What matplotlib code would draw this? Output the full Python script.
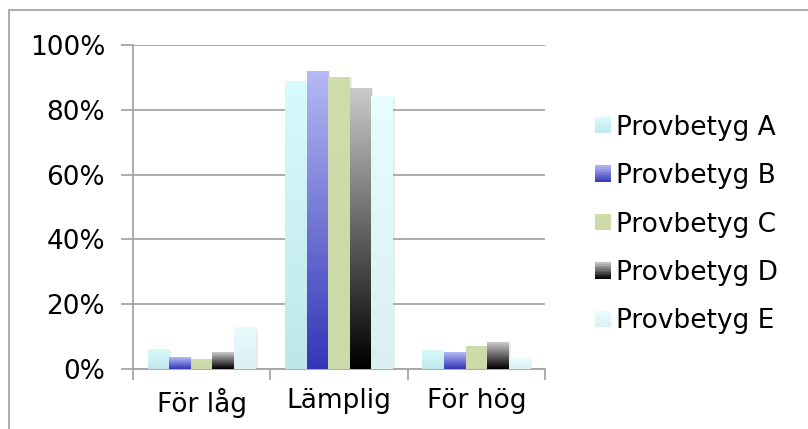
import matplotlib
matplotlib.use("Agg")
import matplotlib.pyplot as plt
import numpy as np
from matplotlib.patches import Rectangle
from matplotlib.legend_handler import HandlerBase
from matplotlib.colors import LinearSegmentedColormap
import matplotlib.patheffects as pe

# Andel elever per provbetyg (procent)
categories = ["För låg", "Lämplig", "För hög"]
series = ["Provbetyg A", "Provbetyg B", "Provbetyg C", "Provbetyg D", "Provbetyg E"]
grade_a = [5.9, 88.7, 5.6]
grade_b = [3.7, 91.7, 5.0]
grade_c = [3.0, 90.1, 6.8]
grade_d = [5.2, 86.7, 8.3]
grade_e = [12.9, 84.0, 3.1]
values = [grade_a, grade_b, grade_c, grade_d, grade_e]

# gradient (top colour, bottom colour) per series
gradients = [("#d6fbfc", "#bfe7eb"),
             ("#b5b8f4", "#3337b6"),
             ("#cfdcab", "#cbdaa8"),
             ("#c9c9c9", "#000000"),
             ("#e8fdfd", "#dbeff3")]

plt.rcParams["font.family"] = ["DejaVu Sans"]
grid_col = "#a6a6a6"

fig = plt.figure(figsize=(8.08, 4.29), dpi=100)
ax = fig.add_axes([133 / 808, 60 / 429, 412 / 808, 324 / 429])

# chart area frame
fig.patches.append(Rectangle((9 / 808, -0.1), 1.2, 1.1 - 10 / 429, transform=fig.transFigure,
                             fill=False, ec=grid_col, lw=1.3))

x = np.arange(len(categories))
width = 0.157
start = -width * len(series) / 2

for i, (name, vals) in enumerate(zip(series, values)):
    top, bottom = gradients[i]
    cmap = LinearSegmentedColormap.from_list(name, [bottom, top])
    pos = x + start + width * i + width / 2
    bars = ax.bar(pos, vals, width, color=top, lw=0, zorder=2)
    for b in bars:
        b.set_path_effects([pe.SimplePatchShadow(offset=(1.5, -1), shadow_rgbFace="#999999", alpha=0.18),
                            pe.Normal()])
        x0, w, h = b.get_x(), b.get_width(), b.get_height()
        ax.imshow(np.linspace(0, 1, 64).reshape(-1, 1), cmap=cmap, aspect="auto",
                  extent=(x0, x0 + w, 0, h), origin="lower", zorder=3, interpolation="bilinear")

ax.set_xlim(-0.5, 2.5)
ax.set_ylim(0, 100)
ax.set_yticks(np.arange(0, 101, 20))
ax.set_yticklabels([f"{v}%" for v in range(0, 101, 20)])
ax.set_xticks(x)
ax.set_xticklabels(categories)
ax.set_xticks([-0.5, 0.5, 1.5, 2.5], minor=True)
ax.tick_params(axis="x", which="major", length=0, pad=14, labelsize=19)
ax.tick_params(axis="x", which="minor", length=8, width=1.3, color=grid_col, direction="out")
ax.tick_params(axis="y", length=9, width=1.3, color=grid_col, pad=11, labelsize=19)

ax.yaxis.grid(True, color=grid_col, lw=1.3)
ax.set_axisbelow(True)
for side in ["top", "right"]:
    ax.spines[side].set_visible(False)
for side in ["left", "bottom"]:
    ax.spines[side].set_color(grid_col)
    ax.spines[side].set_linewidth(1.3)


class GradientHandler(HandlerBase):
    def __init__(self, top, bottom):
        super().__init__()
        self.top, self.bottom = top, bottom

    def create_artists(self, legend, orig_handle, xdescent, ydescent, width, height, fontsize, trans):
        cmap = LinearSegmentedColormap.from_list("h", [self.bottom, self.top])
        n = 10
        side = min(width, height)
        y0 = -ydescent + (height - side) / 2
        strips = []
        for k in range(n):
            r = Rectangle((-xdescent, y0 + side * k / n), side, side / n + 0.3,
                          fc=cmap((k + 0.5) / n), lw=0, transform=trans)
            strips.append(r)
        return strips


handles = [Rectangle((0, 0), 1, 1) for _ in series]
handler_map = {h: GradientHandler(*g) for h, g in zip(handles, gradients)}
fig.legend(handles, series, handler_map=handler_map, loc="center left",
           bbox_to_anchor=(595 / 808, 1 - 224.5 / 429), frameon=False, fontsize=19,
           borderpad=0, borderaxespad=0, handlelength=0.6, handleheight=0.6,
           handletextpad=0.2, labelspacing=0.85)

fig.savefig("out.png", dpi=100)
